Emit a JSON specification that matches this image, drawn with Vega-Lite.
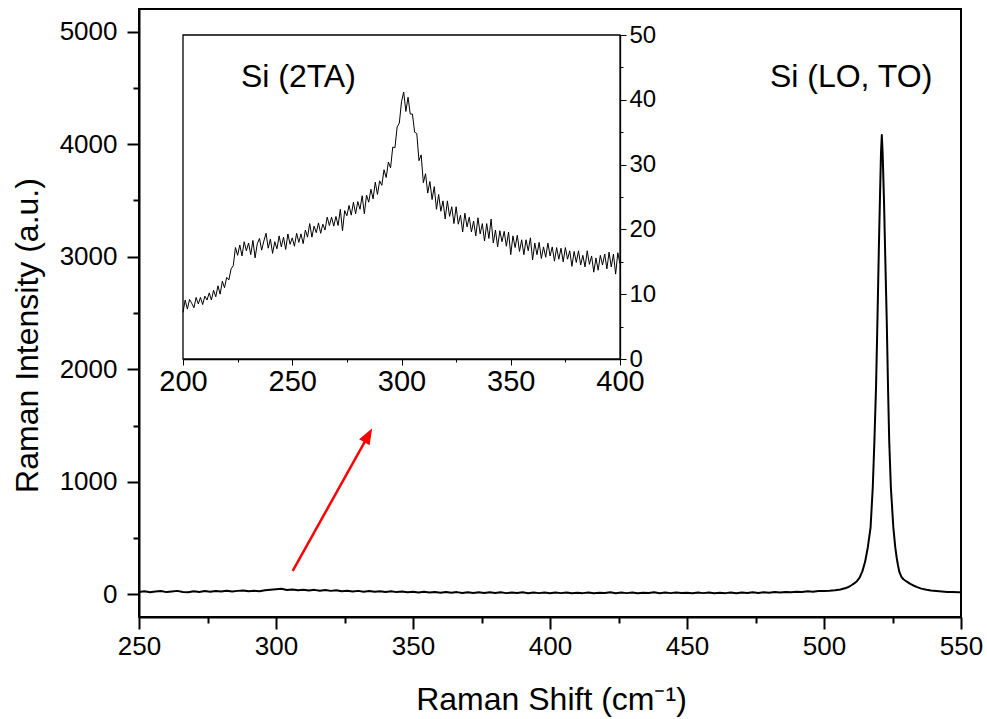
{
  "$schema": "https://vega.github.io/schema/vega-lite/v6.json",
  "width": 822,
  "height": 608,
  "autosize": "none",
  "padding": {"left": 139, "top": 9, "right": 26, "bottom": 102},
  "background": "white",
  "config": {
    "view": {"stroke": "black", "strokeWidth": 2},
    "font": "Liberation Sans",
    "axis": {"domainColor": "black", "tickColor": "black", "labelColor": "black", "titleColor": "black", "grid": false, "labelFont": "Liberation Sans", "titleFont": "Liberation Sans", "titleFontWeight": "normal", "labelOverlap": false, "labelFlush": false, "labelBound": false}
  },
  "datasets": {
    "main": [
      {"x":250,"y":22},{"x":252,"y":28},{"x":254,"y":19},{"x":256,"y":26},{"x":258,"y":31},{"x":260,"y":21},{"x":262,"y":27},{"x":264,"y":32},{"x":266,"y":23},{"x":268,"y":19},
      {"x":270,"y":28},{"x":272,"y":22},{"x":274,"y":30},{"x":276,"y":24},{"x":278,"y":31},{"x":280,"y":26},{"x":282,"y":34},{"x":284,"y":27},{"x":286,"y":32},{"x":288,"y":36},
      {"x":290,"y":29},{"x":292,"y":34},{"x":294,"y":28},{"x":296,"y":37},{"x":298,"y":43},{"x":300,"y":47},{"x":302,"y":50},{"x":304,"y":40},{"x":306,"y":45},{"x":308,"y":37},
      {"x":310,"y":43},{"x":312,"y":35},{"x":314,"y":41},{"x":316,"y":34},{"x":318,"y":39},{"x":320,"y":32},{"x":322,"y":37},{"x":324,"y":29},{"x":326,"y":34},{"x":328,"y":27},
      {"x":330,"y":32},{"x":332,"y":25},{"x":334,"y":31},{"x":336,"y":24},{"x":338,"y":29},{"x":340,"y":22},{"x":342,"y":28},{"x":344,"y":21},{"x":346,"y":26},{"x":348,"y":19},
      {"x":350,"y":25},{"x":352,"y":18},{"x":354,"y":24},{"x":356,"y":17},{"x":358,"y":23},{"x":360,"y":16},{"x":362,"y":22},{"x":364,"y":15},{"x":366,"y":21},{"x":368,"y":14},
      {"x":370,"y":20},{"x":372,"y":13},{"x":374,"y":19},{"x":376,"y":14},{"x":378,"y":20},{"x":380,"y":13},{"x":382,"y":19},{"x":384,"y":12},{"x":386,"y":18},{"x":388,"y":13},
      {"x":390,"y":19},{"x":392,"y":11},{"x":394,"y":17},{"x":396,"y":12},{"x":398,"y":18},{"x":400,"y":11},{"x":402,"y":17},{"x":404,"y":12},{"x":406,"y":18},{"x":408,"y":11},
      {"x":410,"y":16},{"x":412,"y":12},{"x":414,"y":18},{"x":416,"y":10},{"x":418,"y":16},{"x":420,"y":13},{"x":422,"y":19},{"x":424,"y":11},{"x":426,"y":17},{"x":428,"y":12},
      {"x":430,"y":18},{"x":432,"y":11},{"x":434,"y":16},{"x":436,"y":13},{"x":438,"y":19},{"x":440,"y":11},{"x":442,"y":17},{"x":444,"y":12},{"x":446,"y":18},{"x":448,"y":13},
      {"x":450,"y":16},{"x":452,"y":11},{"x":454,"y":17},{"x":456,"y":12},{"x":458,"y":18},{"x":460,"y":10},{"x":462,"y":16},{"x":464,"y":12},{"x":466,"y":18},{"x":468,"y":11},
      {"x":470,"y":17},{"x":472,"y":13},{"x":474,"y":19},{"x":476,"y":14},{"x":478,"y":20},{"x":480,"y":15},{"x":482,"y":21},{"x":484,"y":17},{"x":486,"y":23},{"x":488,"y":19},
      {"x":490,"y":25},{"x":492,"y":22},{"x":494,"y":28},{"x":496,"y":25},{"x":498,"y":31},{"x":500,"y":30},
      {"x":502,"y":33},{"x":504,"y":38},{"x":506,"y":45},{"x":508,"y":58},{"x":509,"y":68},{"x":510,"y":82},{"x":511,"y":98},{"x":512,"y":118},{"x":513,"y":150},{"x":514,"y":205},
      {"x":515,"y":290},{"x":516,"y":420},{"x":517,"y":597},{"x":517.8,"y":952},{"x":518.4,"y":1366},{"x":519,"y":1850},{"x":519.5,"y":2431},{"x":520,"y":3050},{"x":520.4,"y":3496},{"x":520.8,"y":3920},
      {"x":521.1,"y":4080},{"x":521.4,"y":3920},{"x":521.9,"y":3496},{"x":522.4,"y":2950},{"x":522.9,"y":2431},{"x":523.4,"y":1800},{"x":523.8,"y":1366},{"x":524.4,"y":952},{"x":525.3,"y":597},{"x":526,"y":420},
      {"x":526.5,"y":331},{"x":527,"y":260},{"x":527.5,"y":200},{"x":528.3,"y":154},{"x":529,"y":135},{"x":529.6,"y":124},{"x":530.5,"y":110},{"x":531.5,"y":95},{"x":532.6,"y":80},{"x":534,"y":65},
      {"x":535.5,"y":52},{"x":537.4,"y":42},{"x":539,"y":35},{"x":541,"y":30},{"x":543,"y":26},{"x":545,"y":22},{"x":547,"y":21},{"x":549,"y":20},{"x":550,"y":19}
    ],
    "inset": [
      {"x":200,"y":7.2},{"x":201,"y":9.1},{"x":202,"y":7.7},{"x":203,"y":9.2},{"x":204,"y":8.6},{"x":205,"y":7.9},{"x":206,"y":9.5},{"x":207,"y":8.5},{"x":208,"y":9.5},{"x":209,"y":8.4},
      {"x":210,"y":9.7},{"x":211,"y":9.1},{"x":212,"y":10.2},{"x":213,"y":9.1},{"x":214,"y":10.6},{"x":215,"y":9.6},{"x":216,"y":11.3},{"x":217,"y":10.0},{"x":218,"y":12.0},{"x":219,"y":11.0},
      {"x":220,"y":12.6},{"x":221,"y":12.2},{"x":222,"y":13.9},{"x":223,"y":14.4},{"x":224,"y":17.2},{"x":225,"y":16.0},{"x":226,"y":17.6},{"x":227,"y":15.9},{"x":228,"y":18.1},{"x":229,"y":16.7},
      {"x":230,"y":17.9},{"x":231,"y":16.1},{"x":232,"y":18.3},{"x":233,"y":15.6},{"x":234,"y":17.8},{"x":235,"y":18.6},{"x":236,"y":16.8},{"x":237,"y":18.2},{"x":238,"y":19.4},{"x":239,"y":17.1},
      {"x":240,"y":18.5},{"x":241,"y":16.3},{"x":242,"y":18.1},{"x":243,"y":17.0},{"x":244,"y":19.0},{"x":245,"y":17.3},{"x":246,"y":18.8},{"x":247,"y":16.9},{"x":248,"y":19.3},{"x":249,"y":17.7},
      {"x":250,"y":18.7},{"x":251,"y":17.4},{"x":252,"y":19.4},{"x":253,"y":18.0},{"x":254,"y":19.3},{"x":255,"y":17.8},{"x":256,"y":19.9},{"x":257,"y":18.8},{"x":258,"y":20.9},{"x":259,"y":18.8},
      {"x":260,"y":20.5},{"x":261,"y":19.5},{"x":262,"y":21.0},{"x":263,"y":19.4},{"x":264,"y":20.8},{"x":265,"y":19.9},{"x":266,"y":21.9},{"x":267,"y":20.6},{"x":268,"y":21.9},{"x":269,"y":20.5},
      {"x":270,"y":22.0},{"x":271,"y":20.6},{"x":272,"y":23.1},{"x":273,"y":19.8},{"x":274,"y":22.9},{"x":275,"y":22.1},{"x":276,"y":23.7},{"x":277,"y":22.2},{"x":278,"y":24.2},{"x":279,"y":22.4},
      {"x":280,"y":24.3},{"x":281,"y":23.1},{"x":282,"y":25.2},{"x":283,"y":22.4},{"x":284,"y":25.3},{"x":285,"y":24.2},{"x":286,"y":26.2},{"x":287,"y":24.7},{"x":288,"y":27.3},{"x":289,"y":25.4},
      {"x":290,"y":27.5},{"x":291,"y":26.8},{"x":292,"y":29.2},{"x":293,"y":28.0},{"x":294,"y":30.4},{"x":295,"y":29.5},{"x":296,"y":32.7},{"x":297,"y":32.6},{"x":298,"y":35.8},{"x":299,"y":36.4},
      {"x":300,"y":39.7},{"x":301,"y":41.2},{"x":302,"y":38.2},{"x":303,"y":40.4},{"x":304,"y":37.8},{"x":305,"y":37.8},{"x":306,"y":35.0},{"x":307,"y":34.8},{"x":308,"y":30.6},{"x":309,"y":31.5},
      {"x":310,"y":27.2},{"x":311,"y":28.6},{"x":312,"y":25.6},{"x":313,"y":27.4},{"x":314,"y":24.6},{"x":315,"y":26.6},{"x":316,"y":23.1},{"x":317,"y":25.4},{"x":318,"y":22.8},{"x":319,"y":24.4},
      {"x":320,"y":21.6},{"x":321,"y":24.4},{"x":322,"y":22.0},{"x":323,"y":23.5},{"x":324,"y":20.9},{"x":325,"y":23.5},{"x":326,"y":20.8},{"x":327,"y":22.2},{"x":328,"y":19.6},{"x":329,"y":22.5},
      {"x":330,"y":20.4},{"x":331,"y":21.9},{"x":332,"y":19.6},{"x":333,"y":21.3},{"x":334,"y":19.0},{"x":335,"y":21.8},{"x":336,"y":19.3},{"x":337,"y":20.9},{"x":338,"y":18.2},{"x":339,"y":20.9},
      {"x":340,"y":18.6},{"x":341,"y":21.6},{"x":342,"y":17.9},{"x":343,"y":19.9},{"x":344,"y":17.3},{"x":345,"y":19.8},{"x":346,"y":18.1},{"x":347,"y":19.7},{"x":348,"y":17.4},{"x":349,"y":19.6},
      {"x":350,"y":16.1},{"x":351,"y":19.0},{"x":352,"y":17.2},{"x":353,"y":19.1},{"x":354,"y":16.6},{"x":355,"y":18.4},{"x":356,"y":16.1},{"x":357,"y":18.4},{"x":358,"y":16.7},{"x":359,"y":18.7},
      {"x":360,"y":15.3},{"x":361,"y":17.9},{"x":362,"y":16.1},{"x":363,"y":18.0},{"x":364,"y":15.5},{"x":365,"y":17.3},{"x":366,"y":15.7},{"x":367,"y":17.9},{"x":368,"y":15.9},{"x":369,"y":17.3},
      {"x":370,"y":15.1},{"x":371,"y":17.2},{"x":372,"y":15.4},{"x":373,"y":17.1},{"x":374,"y":15.0},{"x":375,"y":17.2},{"x":376,"y":15.4},{"x":377,"y":16.7},{"x":378,"y":14.3},{"x":379,"y":16.6},
      {"x":380,"y":14.9},{"x":381,"y":16.7},{"x":382,"y":14.5},{"x":383,"y":16.0},{"x":384,"y":14.2},{"x":385,"y":16.7},{"x":386,"y":14.6},{"x":387,"y":15.9},{"x":388,"y":13.4},{"x":389,"y":15.6},
      {"x":390,"y":13.7},{"x":391,"y":16.0},{"x":392,"y":14.5},{"x":393,"y":16.2},{"x":394,"y":13.9},{"x":395,"y":16.5},{"x":396,"y":14.2},{"x":397,"y":16.2},{"x":398,"y":13.1},{"x":399,"y":16.4},
      {"x":400,"y":14.7}
    ],
    "arrow": [{"x":306.1,"y":210},{"x":333.4,"y":1400}],
    "arrowHead": [{"x":335.1,"y":1476}],
    "mainLabel": [{"x":509.9,"y":4510,"label":"Si (LO, TO)"}],
    "insetFrame": [{"x":200,"x2":400,"y":0,"y2":50}],
    "insetLabel": [{"x":252.8,"y":41.9,"label":"Si (2TA)"}]
  },
  "layer": [
    {
      "data": {"name": "main"},
      "mark": {"type": "line", "color": "black", "strokeWidth": 2, "strokeJoin": "round"},
      "encoding": {
        "x": {"field": "x", "type": "quantitative", "scale": {"domain": [250, 550], "nice": false, "zero": false},
          "axis": {"orient": "bottom", "title": "Raman Shift (cm⁻¹)", "values": [250,300,350,400,450,500,550], "format": "d",
            "tickSize": 12, "tickWidth": 2, "domainWidth": 2, "labelFontSize": 26, "labelPadding": 4,
            "titleFontSize": 32, "titleX": 412, "titleY": 92, "titleAlign": "center", "titleBaseline": "alphabetic"}},
        "y": {"field": "y", "type": "quantitative", "scale": {"domain": [-200, 5200], "nice": false, "zero": false},
          "axis": {"orient": "left", "title": "Raman Intensity (a.u.)", "values": [0,1000,2000,3000,4000,5000], "format": "d",
            "tickSize": 12, "tickWidth": 2, "domainWidth": 2, "labelFontSize": 26, "labelPadding": 10,
            "titleFontSize": 32, "titleAngle": 270, "titleX": -102, "titleY": 326, "titleAlign": "center", "titleBaseline": "alphabetic"}}
      }
    },
    {
      "data": {"name": "arrow"},
      "mark": {"type": "line", "color": "#ff0000", "strokeWidth": 2.5},
      "encoding": {
        "x": {"field": "x", "type": "quantitative", "scale": {"domain": [250, 550], "nice": false, "zero": false},
          "axis": {"orient": "bottom", "title": null, "values": [275,325,375,425,475,525], "labels": false, "domain": false, "tickSize": 6, "tickWidth": 2}},
        "y": {"field": "y", "type": "quantitative", "scale": {"domain": [-200, 5200], "nice": false, "zero": false},
          "axis": {"orient": "left", "title": null, "values": [500,1500,2500,3500,4500], "labels": false, "domain": false, "tickSize": 6, "tickWidth": 2}}
      }
    },
    {
      "data": {"name": "arrowHead"},
      "mark": {"type": "point", "shape": "M0,0L0.75,2L-0.75,2Z", "filled": true, "color": "#ff0000", "opacity": 1, "size": 256, "angle": 29.2},
      "encoding": {
        "x": {"field": "x", "type": "quantitative", "scale": {"domain": [250, 550], "nice": false, "zero": false}, "axis": null},
        "y": {"field": "y", "type": "quantitative", "scale": {"domain": [-200, 5200], "nice": false, "zero": false}, "axis": null}
      }
    },
    {
      "data": {"name": "mainLabel"},
      "mark": {"type": "text", "font": "Liberation Sans", "fontSize": 32, "align": "center", "baseline": "alphabetic", "color": "black"},
      "encoding": {
        "x": {"field": "x", "type": "quantitative", "scale": {"domain": [250, 550], "nice": false, "zero": false}, "axis": null},
        "y": {"field": "y", "type": "quantitative", "scale": {"domain": [-200, 5200], "nice": false, "zero": false}, "axis": null},
        "text": {"field": "label"}
      }
    },
    {
      "data": {"name": "insetFrame"},
      "mark": {"type": "rect", "fill": "white", "stroke": "black", "strokeWidth": 1.3},
      "encoding": {
        "x": {"field": "x", "type": "quantitative", "scale": {"domain": [200, 400], "range": [44, 481], "nice": false, "zero": false},
          "axis": {"orient": "bottom", "offset": -258, "title": null, "values": [225,275,325,375], "labels": false, "domain": false, "tickSize": 3, "tickWidth": 1}},
        "x2": {"field": "x2"},
        "y": {"field": "y", "type": "quantitative", "scale": {"domain": [0, 50], "range": [350, 26], "nice": false, "zero": false},
          "axis": {"orient": "right", "offset": -341, "title": null, "values": [5,15,25,35,45], "labels": false, "domain": false, "tickSize": 3, "tickWidth": 1}},
        "y2": {"field": "y2"}
      }
    },
    {
      "data": {"name": "inset"},
      "mark": {"type": "line", "color": "black", "strokeWidth": 1},
      "encoding": {
        "x": {"field": "x", "type": "quantitative", "scale": {"domain": [200, 400], "range": [44, 481], "nice": false, "zero": false},
          "axis": {"orient": "bottom", "offset": -258, "title": null, "values": [200,250,300,350,400], "format": "d",
            "tickSize": 6, "tickWidth": 1, "domainWidth": 1.3, "labelFontSize": 29, "labelPadding": 2}},
        "y": {"field": "y", "type": "quantitative", "scale": {"domain": [0, 50], "range": [350, 26], "nice": false, "zero": false},
          "axis": {"orient": "right", "offset": -341, "title": null, "values": [0,10,20,30,40,50], "format": "d",
            "tickSize": 6, "tickWidth": 1, "domainWidth": 1.3, "labelFontSize": 24, "labelPadding": 3}}
      }
    },
    {
      "data": {"name": "insetLabel"},
      "mark": {"type": "text", "font": "Liberation Sans", "fontSize": 32, "align": "center", "baseline": "alphabetic", "color": "black"},
      "encoding": {
        "x": {"field": "x", "type": "quantitative", "scale": {"domain": [200, 400], "range": [44, 481], "nice": false, "zero": false}, "axis": null},
        "y": {"field": "y", "type": "quantitative", "scale": {"domain": [0, 50], "range": [350, 26], "nice": false, "zero": false}, "axis": null},
        "text": {"field": "label"}
      }
    }
  ],
  "resolve": {"scale": {"x": "independent", "y": "independent"}, "axis": {"x": "independent", "y": "independent"}}
}
